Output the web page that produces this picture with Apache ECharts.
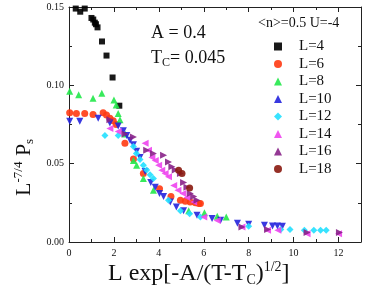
<!DOCTYPE html>
<html>
<head>
<meta charset="utf-8">
<script src="https://cdn.jsdelivr.net/npm/echarts@6/dist/echarts.min.js"></script>
<style>
  html, body { margin: 0; padding: 0; background: #fff; }
  #chart { width: 365px; height: 291px; }
</style>
</head>
<body>
<div id="chart"></div>
<script>
// data: [x, y]
const l4 = [[0.3, 0.149], [0.5, 0.147], [0.7, 0.149], [1.0, 0.143], [1.08, 0.142], [1.15, 0.140],
  [1.2, 0.139], [1.27, 0.137], [1.47, 0.128], [1.67, 0.119], [1.94, 0.105], [2.24, 0.087]]
const l6 = [[0.03, 0.0825], [0.33, 0.082], [0.7, 0.082], [1.07, 0.0814], [1.52, 0.0825], [1.67, 0.081],
  [1.82, 0.079], [1.97, 0.0774], [2.1, 0.075], [2.49, 0.063], [2.87, 0.053], [3.31, 0.0437],
  [4.03, 0.034], [4.54, 0.029], [4.96, 0.0266], [5.18, 0.026], [5.4, 0.0256], [5.63, 0.025],
  [5.78, 0.0245], [5.85, 0.0245]]
const l8 = [[0.03, 0.0962], [0.43, 0.094], [1.07, 0.0917], [1.46, 0.0949], [2.0, 0.0906], [2.1, 0.0874],
  [2.19, 0.082], [2.27, 0.078], [2.5, 0.069], [2.87, 0.052], [3.01, 0.049], [3.31, 0.0405],
  [3.76, 0.033], [5.33, 0.020], [6.03, 0.0186], [6.6, 0.0164], [7.0, 0.016]]
const l10 = [[0.03, 0.077], [0.48, 0.077], [1.3, 0.079], [1.82, 0.076], [2.19, 0.074], [2.42, 0.071],
  [2.57, 0.068], [2.72, 0.065], [2.87, 0.062], [3.01, 0.058], [3.16, 0.054], [3.39, 0.045],
  [3.64, 0.038], [3.84, 0.035], [4.03, 0.031], [4.21, 0.029], [4.51, 0.0256], [4.78, 0.0224],
  [5.1, 0.020], [5.7, 0.017], [6.37, 0.015], [6.75, 0.0139], [7.5, 0.012], [8.0, 0.0113],
  [8.7, 0.0107], [9.06, 0.0102], [9.28, 0.0102], [9.5, 0.010]]
const l12 = [[1.6, 0.068], [2.19, 0.068], [2.87, 0.061], [3.0, 0.0565], [3.16, 0.0527], [3.31, 0.049],
  [3.46, 0.046], [3.61, 0.043], [3.76, 0.0405], [4.43, 0.0266], [4.96, 0.020], [5.37, 0.0181],
  [5.85, 0.016], [8.0, 0.010], [9.43, 0.0079], [9.84, 0.0079], [10.48, 0.0075], [10.9, 0.0075],
  [11.2, 0.0075], [11.45, 0.0075]]
const l14 = [[1.82, 0.0725], [2.19, 0.0706], [3.39, 0.063], [3.54, 0.0586], [3.69, 0.054], [3.84, 0.052],
  [3.99, 0.049], [4.13, 0.0458], [4.28, 0.0437], [4.43, 0.0416], [4.66, 0.036], [4.85, 0.033],
  [5.07, 0.031], [5.25, 0.0284], [5.55, 0.0256], [6.0, 0.016], [6.6, 0.0138], [7.7, 0.0096],
  [8.84, 0.0075], [9.3, 0.0075], [10.6, 0.0053], [12.0, 0.0053]]
const l16 = [[1.82, 0.078], [2.49, 0.069], [2.87, 0.067], [3.46, 0.0586], [3.76, 0.0565], [4.21, 0.0554],
  [4.43, 0.051], [4.58, 0.048], [4.73, 0.046], [4.96, 0.0437], [5.1, 0.038], [5.25, 0.035],
  [5.4, 0.031], [5.55, 0.029], [5.7, 0.0266], [7.7, 0.0096], [8.84, 0.0079], [10.6, 0.006],
  [12.04, 0.006]]
const l18 = [[4.88, 0.0458], [5.03, 0.0437], [5.37, 0.0345]]

const names = ['L=4', 'L=6', 'L=8', 'L=10', 'L=12', 'L=14', 'L=16', 'L=18']
const colors = ['#000000', '#ff3a12', '#22e84a', '#2424dd', '#22e0ff', '#ee44ee', '#882288', '#8a1a10']
const symbols = ['rect', 'circle', 'triangle', 'triangle', 'diamond', 'triangle', 'triangle', 'circle']
const rotates = [0, 0, 0, 180, 0, 90, -90, 0]
const sizes = [6, 7, 7, 7, 7, 7, 7, 7]
const allData = [l4, l6, l8, l10, l12, l14, l16, l18]

const serif = 'Liberation Serif'
const chart = echarts.init(document.getElementById('chart'), null, { renderer: 'canvas' })

const series = names.map((n, i) => ({
  name: n,
  type: 'scatter',
  data: allData[i],
  symbol: symbols[i],
  symbolRotate: rotates[i],
  symbolSize: sizes[i],
  itemStyle: { color: colors[i], opacity: 0.9 },
  xAxisIndex: 0,
  yAxisIndex: 0
}))

const tickBase = {
  axisLine: { show: true, onZero: false, lineStyle: { color: '#222', width: 1 } },
  axisTick: { show: true, inside: true, length: 5, lineStyle: { color: '#222' } },
  minorTick: { show: true, splitNumber: 2, length: 3, lineStyle: { color: '#222' } },
  splitLine: { show: false }
}

const option = {
  animation: false,
  grid: { left: 69, right: 4, top: 7, bottom: 49 },
  xAxis: [
    Object.assign({
      type: 'value', min: 0, max: 13, interval: 2, position: 'bottom',
      axisLabel: {
        fontFamily: serif, fontSize: 10, color: '#111', margin: 6,
        formatter: v => (v > 12 ? '' : v)
      }
    }, tickBase),
    Object.assign({
      type: 'value', min: 0, max: 13, interval: 2, position: 'top',
      axisLabel: { show: false }
    }, tickBase)
  ],
  yAxis: [
    Object.assign({
      type: 'value', min: 0, max: 0.15, interval: 0.05, position: 'left',
      axisLabel: {
        fontFamily: serif, fontSize: 10, color: '#111', margin: 5,
        formatter: v => v.toFixed(2)
      }
    }, tickBase),
    Object.assign({
      type: 'value', min: 0, max: 0.15, interval: 0.05, position: 'right',
      axisLabel: { show: false }
    }, tickBase)
  ],
  legend: {
    orient: 'vertical',
    left: 269,
    top: 34,
    itemWidth: 8,
    itemHeight: 8,
    itemGap: 2.5,
    data: names,
    textStyle: { fontFamily: serif, fontSize: 15, color: '#111', lineHeight: 15, padding: [0, 0, 0, 12] }
  },
  graphic: [
    {
      type: 'text', left: 258, top: 16,
      style: { text: '<n>=0.5 U=-4', font: '14px "Liberation Serif"', fill: '#111' }
    },
    {
      type: 'text', left: 151, top: 24,
      style: { text: 'A = 0.4', font: '18px "Liberation Serif"', fill: '#111' }
    },
    {
      type: 'text', left: 151, top: 49,
      style: {
        text: '{a|T}{s|C}{a|= 0.045}',
        rich: {
          a: { font: '18px "Liberation Serif"', fill: '#111' },
          s: { font: '12px "Liberation Serif"', fill: '#111', padding: [10, 0, 0, 0] }
        }
      }
    },
    {
      type: 'text', x: 12, y: 196, rotation: Math.PI / 2,
      style: {
        text: '{a|L}{p|-7/4}{a| P}{s|s}',
        rich: {
          a: { font: '22px "Liberation Serif"', fill: '#111' },
          p: { font: '13px "Liberation Serif"', fill: '#111', padding: [0, 0, 12, 0] },
          s: { font: '13px "Liberation Serif"', fill: '#111', padding: [10, 0, 0, 0] }
        }
      }
    },
    {
      type: 'text', left: 108, top: 260,
      style: {
        text: '{a|L exp[-A/(T-T}{s|C}{a|)}{p|1/2}{a|]}',
        rich: {
          a: { font: '24px "Liberation Serif"', fill: '#111' },
          p: { font: '14px "Liberation Serif"', fill: '#111', padding: [0, 0, 14, 0] },
          s: { font: '14px "Liberation Serif"', fill: '#111', padding: [12, 0, 0, 0] }
        }
      }
    }
  ],
  series: series
}

chart.setOption(option)
</script>
</body>
</html>
